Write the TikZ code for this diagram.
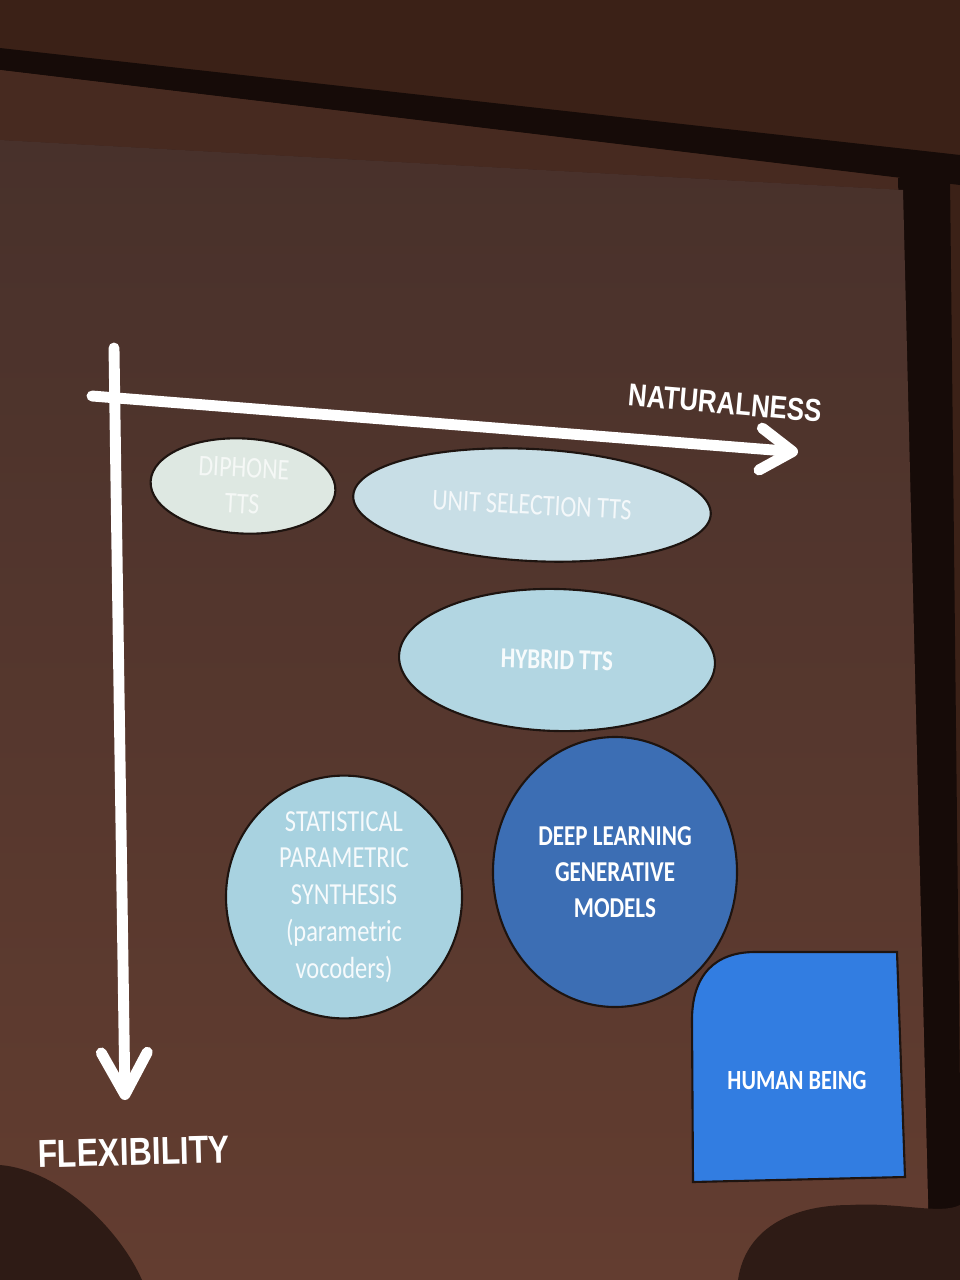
\documentclass[tikz,border=0pt]{standalone}
\usepackage{fontspec}
\setmainfont{Carlito}
\newfontfamily\boxfont[FakeStretch=0.8]{Carlito}
\newfontfamily\axisfont[FakeStretch=0.82]{Liberation Sans}
\usetikzlibrary{positioning, shapes.geometric, arrows.meta}
\definecolor{slwall}{HTML}{3B2117}
\definecolor{slframe}{HTML}{160B08}
\definecolor{slstrip}{HTML}{472A20}
\definecolor{sltop}{HTML}{48312B}
\definecolor{slbottom}{HTML}{633D30}
\definecolor{slhead}{HTML}{2E1B15}
\definecolor{sledge}{HTML}{1E1410}
\definecolor{sldiphone}{HTML}{DEE8E2}
\definecolor{slunit}{HTML}{C8DEE6}
\definecolor{slhybrid}{HTML}{B2D6E2}
\definecolor{slstat}{HTML}{A8D2E0}
\definecolor{sldeep}{HTML}{3C6EB4}
\definecolor{slhuman}{HTML}{327DE1}

\begin{document}
\begin{tikzpicture}[x=0.1mm, y=-0.1mm,
    blob/.style={ellipse, draw=sledge, line width=0.6pt, inner sep=0pt, align=center, text=white,
      font=\boxfont\fontsize{8.5}{10.3}\selectfont},
    axisline/.style={white, line width=3.1pt, line cap=round},
    axislabel/.style={text=white, inner sep=0pt, font=\axisfont\bfseries\fontsize{9}{11}\selectfont}]
        \useasboundingbox (0,0) rectangle (960,1280);
        \fill[slwall] (0,0) rectangle (960,1280);
        \fill[slframe] (0,48) -- (960,155) -- (960,185) -- (0,70) -- cycle;
        \fill[slstrip] (0,70) -- (900,178) -- (903,190) -- (0,140) -- cycle;
        \fill[slframe] (898,178) -- (950,178) -- (962,1280) -- (926,1280) -- cycle;
        \shade[top color=sltop, bottom color=slbottom] (0,140) -- (903,190) -- (930,1280) -- (0,1280) -- cycle;
        \coordinate (vtop) at (114,348);
        \coordinate (vtip) at (125,1100);
        \coordinate (hleft) at (92,396);
        \coordinate (htip) at (798,452);
        \draw[axisline, -{Straight Barb[round, length=4.2mm, width=4.6mm]}] (vtop) -- (vtip);
        \draw[axisline, -{Straight Barb[round, length=3.2mm, width=4.2mm]}] (hleft) -- (htip);
        \node[axislabel, rotate=-5] (natural) at (725,403) {NATURALNESS};
        \node[axislabel, rotate=1.5, font=\axisfont\bfseries\fontsize{11.1}{13}\selectfont] (flex) at (134,1152) {FLEXIBILITY};
        \node[blob, fill=sldiphone, text=white!70!sldiphone, minimum width=18.5mm, minimum height=9.5mm, rotate=-3] (diphone) at (243,486) {DIPHONE\\TTS};
        \node[blob, fill=slunit, text=white!80!slunit, minimum width=35.8mm, minimum height=11.2mm, rotate=-3] (unitsel) at (532,505) {UNIT SELECTION TTS};
        \node[blob, fill=slhybrid, text=white!90!slhybrid, minimum width=31.6mm, minimum height=14.2mm, rotate=-1.5, font=\boxfont\bfseries\fontsize{8.2}{10}\selectfont] (hybrid) at (557,660) {HYBRID TTS};
        \node[blob, fill=slstat, text=white!90!slstat, minimum width=23.6mm, minimum height=23mm, font=\boxfont\fontsize{8.7}{10.5}\selectfont] (stat) at (344,897) {STATISTICAL\\PARAMETRIC\\SYNTHESIS\\(parametric\\vocoders)};
        \node[blob, fill=sldeep, minimum width=24.4mm, minimum height=27mm, font=\boxfont\bfseries\fontsize{8.2}{10.2}\selectfont] (deep) at (615,872) {DEEP LEARNING\\GENERATIVE\\MODELS};
        \filldraw[fill=slhuman, draw=sledge, line width=0.6pt] (693,1182) -- (692,1020) .. controls (692,975) and (715,952) .. (755,952) -- (897,952) -- (905,1177) -- cycle;
        \node[text=white, inner sep=0pt, font=\boxfont\bfseries\fontsize{7.9}{9.5}\selectfont] (human) at (797,1080) {HUMAN BEING};
        \fill[slhead] (0,1165) .. controls (60,1170) and (120,1230) .. (142,1280) -- (0,1280) -- cycle;
        \fill[slhead] (738,1280) .. controls (745,1230) and (790,1205) .. (850,1205) .. controls (900,1202) and (940,1215) .. (960,1205) -- (960,1280) -- cycle;
      \end{tikzpicture}
\end{document}
